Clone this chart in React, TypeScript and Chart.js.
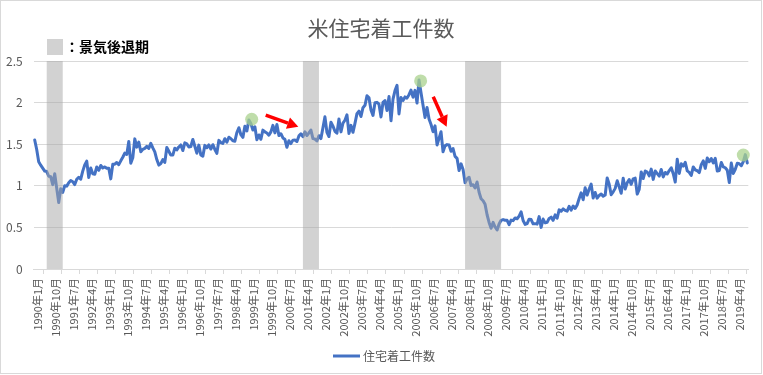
import { useEffect, useRef } from 'react';
import { Chart, registerables } from 'chart.js';

Chart.register(...registerables);

const chartTitle = '米住宅着工件数';
const seriesName = '住宅着工件数';
const recessionLabel = '：景気後退期';

// 1990年1月 〜 2019年9月 (百万戸, 年率)
const housingStarts: number[] = [
  1.551, 1.437, 1.289, 1.248, 1.212, 1.177, 1.171, 1.115, 1.110, 1.014, 1.145, 0.969, // 1990
  0.798, 0.965, 0.921, 1.001, 0.996, 1.036, 1.063, 1.049, 1.015, 1.079, 1.103, 1.079, // 1991
  1.176, 1.250, 1.297, 1.099, 1.214, 1.145, 1.139, 1.226, 1.186, 1.244, 1.214, 1.227, // 1992
  1.210, 1.210, 1.083, 1.258, 1.260, 1.280, 1.254, 1.300, 1.343, 1.392, 1.376, 1.533, // 1993
  1.272, 1.337, 1.564, 1.465, 1.526, 1.409, 1.439, 1.450, 1.474, 1.450, 1.511, 1.455, // 1994
  1.407, 1.316, 1.249, 1.267, 1.314, 1.281, 1.461, 1.416, 1.369, 1.369, 1.452, 1.431, // 1995
  1.467, 1.491, 1.424, 1.516, 1.504, 1.467, 1.472, 1.557, 1.475, 1.392, 1.489, 1.370, // 1996
  1.355, 1.486, 1.457, 1.492, 1.442, 1.494, 1.437, 1.390, 1.546, 1.520, 1.510, 1.566, // 1997
  1.525, 1.584, 1.567, 1.540, 1.536, 1.641, 1.698, 1.614, 1.582, 1.715, 1.660, 1.792, // 1998
  1.748, 1.670, 1.710, 1.553, 1.611, 1.559, 1.669, 1.648, 1.635, 1.608, 1.648, 1.726, // 1999
  1.636, 1.737, 1.604, 1.626, 1.575, 1.559, 1.463, 1.541, 1.507, 1.549, 1.551, 1.532, // 2000
  1.600, 1.625, 1.590, 1.649, 1.605, 1.636, 1.670, 1.567, 1.562, 1.540, 1.602, 1.568, // 2001
  1.698, 1.829, 1.642, 1.592, 1.764, 1.717, 1.655, 1.633, 1.804, 1.648, 1.753, 1.788, // 2002
  1.853, 1.629, 1.726, 1.643, 1.751, 1.867, 1.897, 1.833, 1.939, 1.967, 2.083, 2.057, // 2003
  1.911, 1.846, 1.998, 2.003, 1.981, 1.828, 2.002, 2.024, 1.905, 2.072, 1.782, 2.042, // 2004
  2.144, 2.207, 1.864, 2.061, 2.025, 2.068, 2.054, 2.095, 2.151, 2.065, 2.147, 1.994, // 2005
  2.273, 2.119, 1.969, 1.821, 1.942, 1.802, 1.737, 1.650, 1.720, 1.491, 1.570, 1.649, // 2006
  1.409, 1.480, 1.495, 1.490, 1.415, 1.448, 1.354, 1.330, 1.183, 1.264, 1.197, 1.037, // 2007
  1.084, 1.103, 1.005, 1.013, 0.973, 1.046, 0.923, 0.844, 0.820, 0.777, 0.652, 0.560, // 2008
  0.490, 0.560, 0.505, 0.470, 0.540, 0.585, 0.594, 0.586, 0.585, 0.534, 0.588, 0.581, // 2009
  0.614, 0.604, 0.636, 0.687, 0.583, 0.536, 0.546, 0.599, 0.594, 0.543, 0.545, 0.539, // 2010
  0.630, 0.500, 0.600, 0.554, 0.561, 0.608, 0.623, 0.585, 0.650, 0.610, 0.711, 0.694, // 2011
  0.723, 0.704, 0.695, 0.753, 0.708, 0.757, 0.728, 0.770, 0.847, 0.915, 0.833, 0.976, // 2012
  0.888, 0.962, 1.020, 0.853, 0.920, 0.851, 0.884, 0.902, 0.874, 0.889, 1.095, 1.018, // 2013
  0.893, 0.927, 0.969, 1.060, 0.987, 0.910, 1.090, 0.962, 1.037, 1.076, 1.018, 1.084, // 2014
  1.092, 0.900, 0.957, 1.166, 1.087, 1.177, 1.164, 1.119, 1.201, 1.077, 1.178, 1.146, // 2015
  1.117, 1.196, 1.106, 1.160, 1.142, 1.183, 1.216, 1.146, 1.045, 1.320, 1.149, 1.265, // 2016
  1.236, 1.282, 1.179, 1.161, 1.125, 1.227, 1.191, 1.181, 1.159, 1.254, 1.299, 1.209, // 2017
  1.334, 1.290, 1.327, 1.276, 1.329, 1.177, 1.184, 1.280, 1.228, 1.217, 1.187, 1.040, // 2018
  1.273, 1.149, 1.199, 1.270, 1.265, 1.241, 1.290, 1.375, 1.275, // 2019
];

const startYear = 1990;
const categories: string[] = housingStarts.map((_, i) => {
  const yr = startYear + Math.floor(i / 12);
  const mo = (i % 12) + 1;
  return `${yr}年${mo}月`;
});
const labelEvery = 9;

const yTicks = [0, 0.5, 1, 1.5, 2, 2.5];

// 景気後退期 (開始月, 終了月)
const recessionStart = ['1990年7月', '2001年3月', '2007年12月'];
const recessionEnd = ['1991年3月', '2001年11月', '2009年6月'];
const recessionTop = 2.5;

// 強調マーカー (カテゴリ位置, 値)
const highlightIndex = [108.4, 192.8, 354];
const highlightValue = [1.8, 2.26, 1.37];

// 矢印 (始点・終点)
const arrowFromIndex = [115.4, 199.1];
const arrowFromValue = [1.85, 2.07];
const arrowToIndex = [131.7, 205.8];
const arrowToValue = [1.71, 1.71];

const FONT = '"Noto Sans CJK JP", "Noto Sans", sans-serif';
const LINE_COLOR = '#4472C4';
const TEXT_COLOR = '#595959';
const GRID_COLOR = '#d9d9d9';
const BAND_COLOR = 'rgba(166,166,166,0.5)';

const overlayPlugin = {
  id: 'overlay',
  beforeDraw(chart: any) {
    const ctx = chart.ctx;
    ctx.save();
    ctx.fillStyle = '#ffffff';
    ctx.fillRect(0, 0, chart.width, chart.height);
    ctx.strokeStyle = GRID_COLOR;
    ctx.lineWidth = 1;
    ctx.strokeRect(0.5, 0.5, chart.width - 2, chart.height - 2);
    ctx.restore();
  },
  afterDatasetsDraw(chart: any) {
    const ctx = chart.ctx;
    const xs = chart.scales.x;
    const ys = chart.scales.y;
    ctx.save();
    // recession bands
    ctx.fillStyle = BAND_COLOR;
    recessionStart.forEach((s, i) => {
      const x1 = xs.getPixelForValue(categories.indexOf(s));
      const x2 = xs.getPixelForValue(categories.indexOf(recessionEnd[i]));
      const yt = ys.getPixelForValue(recessionTop);
      const yb = ys.getPixelForValue(0);
      ctx.fillRect(x1, yt, x2 - x1, yb - yt);
    });
    // highlight circles
    ctx.fillStyle = 'rgba(169,209,142,0.75)';
    highlightIndex.forEach((idx, i) => {
      const cx = xs.getPixelForValue(idx);
      const cy = ys.getPixelForValue(highlightValue[i]);
      ctx.beginPath();
      ctx.arc(cx, cy, 6.5, 0, Math.PI * 2);
      ctx.fill();
    });
    // arrows
    ctx.fillStyle = '#ff0000';
    ctx.strokeStyle = '#ff0000';
    arrowFromIndex.forEach((idx, i) => {
      const x1 = xs.getPixelForValue(idx);
      const y1 = ys.getPixelForValue(arrowFromValue[i]);
      const x2 = xs.getPixelForValue(arrowToIndex[i]);
      const y2 = ys.getPixelForValue(arrowToValue[i]);
      const ang = Math.atan2(y2 - y1, x2 - x1);
      const headLen = 11;
      const headW = 6;
      const bx = x2 - headLen * Math.cos(ang);
      const by = y2 - headLen * Math.sin(ang);
      ctx.lineWidth = 3.5;
      ctx.lineCap = 'butt';
      ctx.beginPath();
      ctx.moveTo(x1, y1);
      ctx.lineTo(bx, by);
      ctx.stroke();
      ctx.beginPath();
      ctx.moveTo(x2, y2);
      ctx.lineTo(bx + headW * Math.sin(ang), by - headW * Math.cos(ang));
      ctx.lineTo(bx - headW * Math.sin(ang), by + headW * Math.cos(ang));
      ctx.closePath();
      ctx.fill();
    });
    ctx.restore();
  },
  afterDraw(chart: any) {
    const ctx = chart.ctx;
    ctx.save();
    // title
    ctx.fillStyle = TEXT_COLOR;
    ctx.font = `21px ${FONT}`;
    ctx.textAlign = 'center';
    ctx.textBaseline = 'middle';
    ctx.fillText(chartTitle, 381, 28);
    // recession legend
    ctx.fillStyle = 'rgb(210,210,210)';
    ctx.fillRect(47, 39, 16, 16);
    ctx.fillStyle = '#000000';
    ctx.font = `bold 14px ${FONT}`;
    ctx.textAlign = 'left';
    ctx.fillText(recessionLabel, 65, 47);
    // series legend
    ctx.strokeStyle = LINE_COLOR;
    ctx.lineWidth = 3;
    ctx.beginPath();
    ctx.moveTo(333, 356);
    ctx.lineTo(360, 356);
    ctx.stroke();
    ctx.fillStyle = TEXT_COLOR;
    ctx.font = `12px ${FONT}`;
    ctx.fillText(seriesName, 363, 356);
    ctx.restore();
  },
};

export default function App() {
  const ref = useRef<HTMLCanvasElement | null>(null);
  useEffect(() => {
    document.body.style.margin = '0';
    const canvas = ref.current;
    if (!canvas) return;
    const chart = new Chart(canvas, {
      type: 'line',
      data: {
        labels: categories,
        datasets: [
          {
            label: seriesName,
            data: housingStarts,
            borderColor: LINE_COLOR,
            backgroundColor: LINE_COLOR,
            borderWidth: 3,
            pointRadius: 0,
            tension: 0,
            borderJoinStyle: 'round',
            borderCapStyle: 'round',
          },
        ],
      },
      options: {
        responsive: false,
        animation: false,
        devicePixelRatio: 1,
        layout: { padding: { top: 61, right: 14.7, left: 0, bottom: 0 } },
        plugins: {
          legend: { display: false },
          title: { display: false },
          tooltip: { enabled: false },
        },
        scales: {
          x: {
            type: 'category',
            offset: true,
            afterFit: (s: any) => {
              s.height = 106;
            },
            grid: {
              display: true,
              drawOnChartArea: false,
              drawTicks: true,
              tickLength: 5,
              offset: true,
              color: GRID_COLOR,
            },
            border: { display: true, color: GRID_COLOR, width: 1 },
            ticks: {
              autoSkip: false,
              minRotation: 90,
              maxRotation: 90,
              padding: 4,
              labelOffset: 3,
              color: TEXT_COLOR,
              font: { family: FONT, size: 11 },
              callback: (_v: any, idx: number) => (idx % labelEvery === 0 ? categories[idx] : null),
            },
          },
          y: {
            min: 0,
            max: 2.5,
            afterFit: (s: any) => {
              s.width = 33.7;
            },
            afterBuildTicks: (s: any) => {
              s.ticks = yTicks.map((v) => ({ value: v }));
            },
            grid: { color: GRID_COLOR, drawTicks: false },
            border: { display: false },
            ticks: {
              padding: 11,
              color: TEXT_COLOR,
              font: { family: FONT, size: 12 },
              callback: (v: any) => String(v),
            },
          },
        },
      },
      plugins: [overlayPlugin],
    });
    return () => chart.destroy();
  }, []);
  return <canvas ref={ref} width={763} height={375} style={{ display: 'block' }} />;
}
